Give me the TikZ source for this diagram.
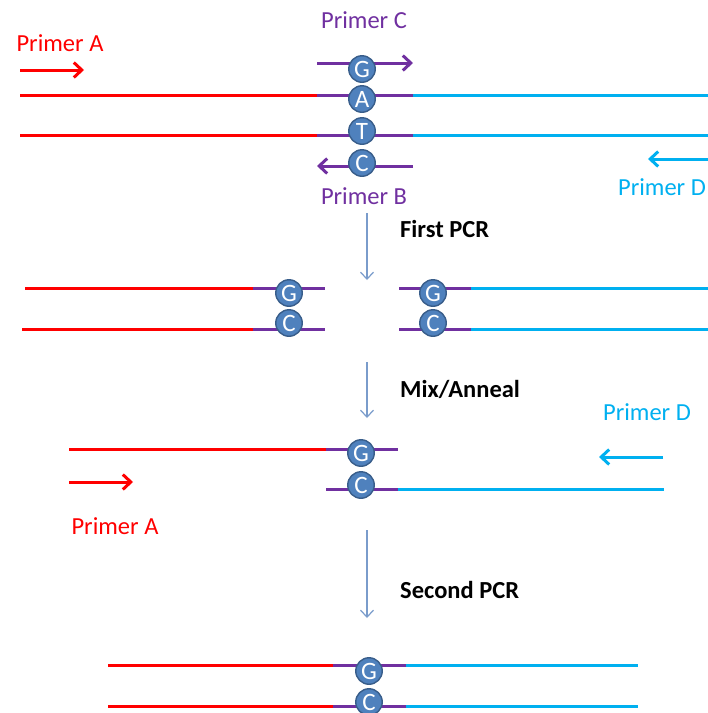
\documentclass[tikz,border=0pt]{standalone}
\usepackage{fontspec}
\setmainfont{Carlito}
\usetikzlibrary{arrows.meta}
\definecolor{PrimerRed}{HTML}{FF0000}
\definecolor{MutPurple}{HTML}{7030A0}
\definecolor{PrimerBlue}{HTML}{00B0F0}
\definecolor{BaseFill}{HTML}{4F81BD}
\definecolor{BaseEdge}{HTML}{385D8A}
\definecolor{StepBlue}{HTML}{7A9CCB}

\tikzset{
  strand/.style={line width=3pt},
  primer/.style={line width=3pt, -{Straight Barb[length=8pt, width=15pt]}},
  basenode/.style={circle, minimum size=26.5pt, inner sep=0pt, fill=BaseFill,
    draw=BaseEdge, line width=1.4pt, text=white, font=\fontsize{25}{25}\selectfont},
  primerlabel/.style={font=\fontsize{24.5}{28}\selectfont, anchor=base, inner sep=0pt},
  steplabel/.style={font=\fontsize{24.5}{28}\selectfont\bfseries, anchor=base west, inner sep=0pt},
  steparrow/.style={StepBlue, line width=1.2pt, -{Straight Barb[length=7pt, width=13pt]}}
}

\begin{document}
\begin{tikzpicture}[x=1pt, y=-1pt]
  \useasboundingbox (0,0) rectangle (708,713);

  % template with primers A to D
  \draw[strand, PrimerRed] (20,95) -- (317,95);
  \draw[strand, MutPurple] (317,95) -- (413,95);
  \draw[strand, PrimerBlue] (413,95) -- (708,95);
  \draw[strand, PrimerRed] (20,135) -- (317,135);
  \draw[strand, MutPurple] (317,135) -- (413,135);
  \draw[strand, PrimerBlue] (413,135) -- (708,135);
  \draw[primer, PrimerRed] (20,70) -- (84,70);
  \draw[primer, MutPurple] (317,63) -- (413,63);
  \draw[primer, MutPurple] (413,166) -- (317,166);
  \draw[primer, PrimerBlue] (708,159) -- (648,159);
  \node[basenode] (g0) at (362,69) {G};
  \node[basenode] (a0) at (362,99) {A};
  \node[basenode] (t0) at (362,131) {T};
  \node[basenode] (c0) at (362,163) {C};
  \node[primerlabel, PrimerRed] (pa0) at (60,51) {Primer A};
  \node[primerlabel, MutPurple] (pc0) at (364,28) {Primer C};
  \node[primerlabel, MutPurple] (pb0) at (364,204) {Primer B};
  \node[primerlabel, PrimerBlue] (pd0) at (662,195) {Primer D};

  \coordinate (s1top) at (367,213);
  \coordinate (s1tip) at (367,280);
  \draw[steparrow] (s1top) -- (s1tip);
  \node[steplabel] (first) at (400,237) {First PCR};

  % two halves after the first PCR
  \draw[strand, PrimerRed] (25,288) -- (253,288);
  \draw[strand, MutPurple] (253,288) -- (325,288);
  \draw[strand, PrimerRed] (22,329) -- (253,329);
  \draw[strand, MutPurple] (253,329) -- (325,329);
  \draw[strand, MutPurple] (399,288) -- (471,288);
  \draw[strand, PrimerBlue] (471,288) -- (708,288);
  \draw[strand, MutPurple] (399,329) -- (471,329);
  \draw[strand, PrimerBlue] (471,329) -- (708,329);
  \node[basenode] (g1l) at (289,293) {G};
  \node[basenode] (c1l) at (289,323) {C};
  \node[basenode] (g1r) at (433,293) {G};
  \node[basenode] (c1r) at (433,323) {C};

  \coordinate (s2top) at (367,362);
  \coordinate (s2tip) at (367,418);
  \draw[steparrow] (s2top) -- (s2tip);
  \node[steplabel] (mix) at (400,397) {Mix/Anneal};

  % annealed overlap
  \draw[strand, PrimerRed] (69,449) -- (326,449);
  \draw[strand, MutPurple] (326,449) -- (398,449);
  \draw[strand, MutPurple] (326,489) -- (398,489);
  \draw[strand, PrimerBlue] (398,489) -- (664,489);
  \draw[primer, PrimerRed] (69,482) -- (133,482);
  \draw[primer, PrimerBlue] (663,457) -- (599,457);
  \node[basenode] (g2) at (361,453) {G};
  \node[basenode] (c2) at (361,485) {C};
  \node[primerlabel, PrimerRed] (pa2) at (115,534) {Primer A};
  \node[primerlabel, PrimerBlue] (pd2) at (647,420) {Primer D};

  \coordinate (s3top) at (367,530);
  \coordinate (s3tip) at (367,618);
  \draw[steparrow] (s3top) -- (s3tip);
  \node[steplabel] (second) at (400,598) {Second PCR};

  % mutated product
  \draw[strand, PrimerRed] (108,665) -- (333,665);
  \draw[strand, MutPurple] (333,665) -- (406,665);
  \draw[strand, PrimerBlue] (406,665) -- (638,665);
  \draw[strand, PrimerRed] (108,706) -- (333,706);
  \draw[strand, MutPurple] (333,706) -- (406,706);
  \draw[strand, PrimerBlue] (406,706) -- (638,706);
  \node[basenode] (g3) at (369,671) {G};
  \node[basenode] (c3) at (369,702) {C};
\end{tikzpicture}
\end{document}
